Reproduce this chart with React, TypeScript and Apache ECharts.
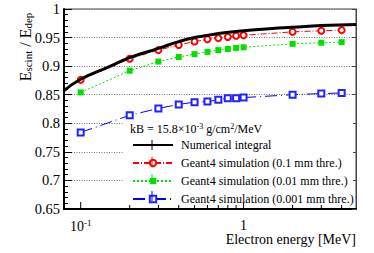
import React, { useEffect, useRef } from "react";
import * as echarts from "echarts";

const energies = [0.1, 0.2, 0.3, 0.4, 0.5, 0.6, 0.7, 0.8, 0.9, 1, 2, 3, 4];
const sim01 = [0.876, 0.913, 0.928, 0.937, 0.943, 0.947, 0.949, 0.951, 0.953, 0.954, 0.96, 0.962, 0.963];
const sim001 = [0.854, 0.892, 0.908, 0.916, 0.921, 0.925, 0.928, 0.93, 0.932, 0.933, 0.939, 0.941, 0.942];
const sim0001 = [0.784, 0.814, 0.826, 0.833, 0.837, 0.838, 0.841, 0.844, 0.844, 0.845, 0.85, 0.852, 0.853];
const integralE = [0.079, 0.1, 0.15, 0.2, 0.3, 0.4, 0.5, 0.7, 1, 1.5, 2, 3, 4.9];
const integralV = [0.857, 0.877, 0.899, 0.915, 0.931, 0.943, 0.95, 0.957, 0.962, 0.966, 0.968, 0.971, 0.973];
const xMajorTicks = [0.1, 1];
const xMinorTicks = [0.2, 0.3, 0.4, 0.5, 0.6, 0.7, 0.8, 0.9, 2, 3, 4];
const seriesNames = [
  "Numerical integral",
  "Geant4 simulation (0.1 mm thre.)",
  "Geant4 simulation (0.01 mm thre.)",
  "Geant4 simulation (0.001 mm thre.)",
];

const FONT = "Liberation Serif";

export default function App() {
  const ref = useRef<HTMLDivElement>(null);
  useEffect(() => {
    document.body.style.margin = "0";
    if (!ref.current) return;
    const chart = echarts.init(ref.current, null, { renderer: "svg" });
    const pair = (xs: number[], ys: number[]) => xs.map((x, i) => [x, ys[i]]);
    const tickData = [
      ...xMajorTicks.map((v) => [v, 0.65, 1]),
      ...xMinorTicks.map((v) => [v, 0.65, 0]),
    ];
    const legendRows = [145, 162, 179, 196];
    const barColors = ["#000", "#ff0000", "#00e000", "#0000ff"];
    const legendBars = legendRows.map((y, i) => ({
      type: "line",
      z: 20,
      silent: true,
      shape: { x1: 152, y1: y - 5, x2: 152, y2: y + 5 },
      style: { stroke: barColors[i], lineWidth: 1 },
    }));
    chart.setOption({
      animation: false,
      textStyle: { fontFamily: FONT },
      grid: { left: 64, right: 18, top: 9, bottom: 44, show: true, borderColor: "#444", borderWidth: 1 },
      xAxis: {
        type: "log",
        logBase: 10,
        min: 0.079,
        max: 4.9,
        axisLine: { show: true, lineStyle: { color: "#000", width: 2 } },
        axisTick: { show: false },
        splitLine: { show: false },
        axisLabel: {
          showMinLabel: false,
          showMaxLabel: false,
          margin: 9,
          fontFamily: FONT,
          fontSize: 14,
          color: "#000",
          formatter: (v: number) => {
            if (Math.abs(v - 0.1) < 1e-6) return "10{sup|-1}";
            if (Math.abs(v - 1) < 1e-6) return "1";
            return "";
          },
          rich: {
            sup: { fontSize: 9, fontFamily: FONT, color: "#000", verticalAlign: "top", padding: [0, 0, 8, 0] },
          },
        },
      },
      yAxis: [
        {
          type: "value",
          min: 0.65,
          max: 1,
          interval: 0.05,
          axisLine: { show: true, lineStyle: { color: "#000", width: 2 } },
          axisTick: { show: true, inside: true, length: 8, lineStyle: { color: "#000", width: 1 } },
          minorTick: { show: true, splitNumber: 5, length: 4, lineStyle: { color: "#000", width: 1 } },
          splitLine: { show: true, lineStyle: { color: "#777", type: [1, 1.5], width: 1 } },
          axisLabel: {
            margin: 4,
            fontFamily: FONT,
            fontSize: 14.5,
            color: "#000",
            formatter: (v: number) => String(parseFloat(v.toFixed(2))),
          },
        },
        {
          type: "value",
          position: "right",
          min: 0.65,
          max: 1,
          interval: 0.05,
          axisLine: { show: true, lineStyle: { color: "#444", width: 1 } },
          axisTick: { show: true, inside: true, length: 4, lineStyle: { color: "#444" } },
          splitLine: { show: false },
          axisLabel: { show: false },
        },
      ],
      legend: {
        orient: "vertical",
        left: 132,
        top: 139,
        data: [
          { name: seriesNames[0], itemStyle: { opacity: 0 } },
          seriesNames[1],
          seriesNames[2],
          seriesNames[3],
        ],
        itemWidth: 40,
        itemHeight: 8,
        itemGap: 6,
        textStyle: { fontFamily: FONT, fontSize: 12, color: "#000", lineHeight: 11, padding: [0, 0, 0, 3] },
        padding: 0,
      },
      graphic: [
        {
          type: "rect",
          shape: { x: 124, y: 120, width: 229, height: 86 },
          style: { fill: "#fff" },
          z: 3,
          silent: true,
        },
        {
          type: "text",
          x: 130,
          y: 129,
          z: 10,
          style: {
            text: "kB = 15.8×10{s|-3} g/cm{s|2}/MeV",
            fontFamily: FONT,
            fontSize: 12,
            fill: "#000",
            verticalAlign: "middle",
            rich: { s: { fontSize: 8, fontFamily: FONT, fill: "#000", verticalAlign: "top", padding: [0, 0, 5, 0] } },
          },
        },
        {
          type: "text",
          x: 356,
          y: 239,
          z: 10,
          style: {
            text: "Electron energy [MeV]",
            fontFamily: FONT,
            fontSize: 14,
            fill: "#000",
            align: "right",
            verticalAlign: "middle",
          },
        },
        {
          type: "text",
          x: 25,
          y: 47,
          rotation: Math.PI / 2,
          z: 10,
          style: {
            text: "E{sub|scint} / E{sub|dep}",
            fontFamily: FONT,
            fontSize: 16,
            fill: "#000",
            align: "center",
            verticalAlign: "middle",
            rich: { sub: { fontSize: 11, fontFamily: FONT, fill: "#000", verticalAlign: "bottom", padding: [5, 0, 0, 0] } },
          },
        },
        ...legendBars,
      ],
      series: [
        {
          name: seriesNames[0],
          type: "line",
          data: pair(integralE, integralV),
          smooth: true,
          symbol: "none",
          lineStyle: { color: "#000", width: 3 },
          itemStyle: { color: "#000" },
          z: 5,
        },
        {
          name: seriesNames[1],
          type: "line",
          data: pair(energies, sim01),
          symbol: "emptyCircle",
          symbolSize: 6,
          lineStyle: { color: "#ff0000", width: 1, type: [6, 2, 1, 2] },
          itemStyle: { color: "#ff0000", borderWidth: 1 },
          z: 4,
        },
        {
          name: seriesNames[2],
          type: "line",
          data: pair(energies, sim001),
          symbol: "rect",
          symbolSize: 6,
          lineStyle: { color: "#00e000", width: 1, type: [2, 2] },
          itemStyle: { color: "#00e000" },
          z: 4,
        },
        {
          name: seriesNames[3],
          type: "line",
          data: pair(energies, sim0001),
          symbol: "emptyRect",
          symbolSize: 6,
          lineStyle: { color: "#0000ff", width: 1, type: [12, 4, 1, 4] },
          itemStyle: { color: "#2222ff", borderWidth: 1 },
          z: 4,
        },
        {
          type: "custom",
          silent: true,
          clip: false,
          data: tickData,
          z: 6,
          renderItem: (params: any, api: any) => {
            const p = api.coord([api.value(0), api.value(1)]);
            const len = api.value(2) ? 7 : 4;
            return {
              type: "line",
              shape: { x1: p[0], y1: p[1], x2: p[0], y2: p[1] - len },
              style: { stroke: "#000", lineWidth: 1 },
            };
          },
        },
      ],
    });
    return () => chart.dispose();
  }, []);
  return <div ref={ref} style={{ width: 374, height: 253 }} />;
}
